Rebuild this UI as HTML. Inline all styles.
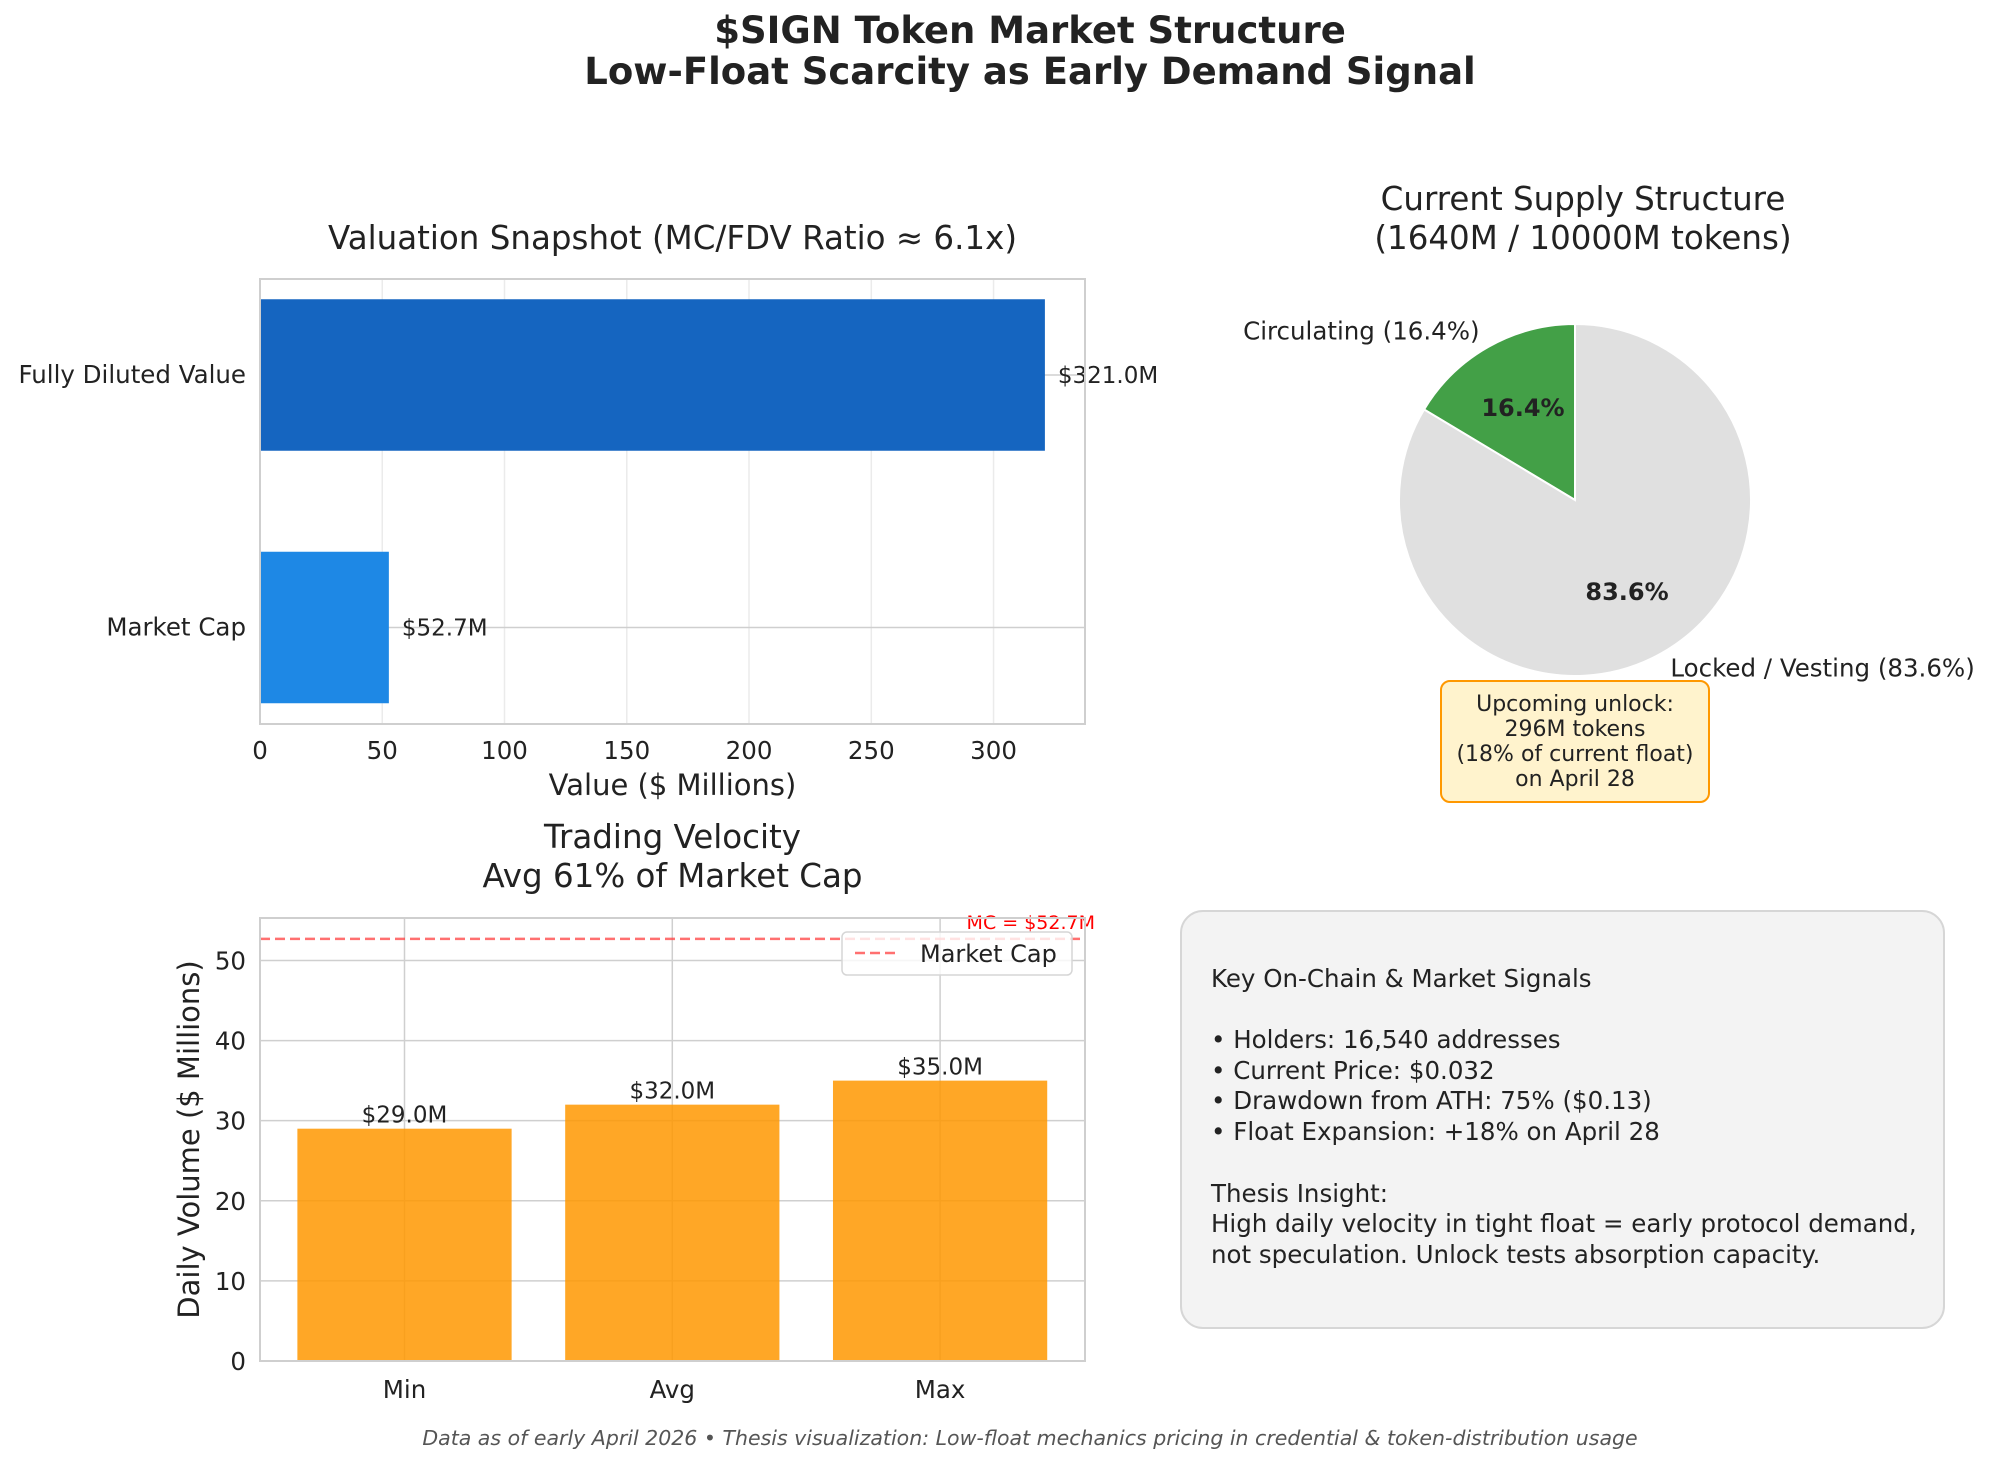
<!DOCTYPE html>
<html><head><meta charset="utf-8"><style>
body{margin:0;background:#fff;}
svg{display:block;font-family:"DejaVu Sans","Liberation Sans",sans-serif;}
</style></head><body>
<svg id="fig" width="2000" height="1457" viewBox="0 0 2000 1457" xmlns="http://www.w3.org/2000/svg">
<text x="1030" y="43" text-anchor="middle" font-size="37" font-weight="bold" fill="#222">$SIGN Token Market Structure</text>
<text x="1030" y="84" text-anchor="middle" font-size="37" font-weight="bold" fill="#222">Low-Float Scarcity as Early Demand Signal</text>
<g id="top"></g>
<g id="bot"></g>
<g id="pie"></g>
<g>
<rect x="1181" y="911" width="763" height="417" rx="22" fill="#f3f3f3" stroke="#d6d6d6" stroke-width="2"/>
<g font-size="24.5" fill="#222">
<text x="1211" y="987">Key On-Chain &amp; Market Signals</text>
<text x="1211" y="1048">• Holders: 16,540 addresses</text>
<text x="1211" y="1079">• Current Price: $0.032</text>
<text x="1211" y="1109">• Drawdown from ATH: 75% ($0.13)</text>
<text x="1211" y="1140">• Float Expansion: +18% on April 28</text>
<text x="1211" y="1202">Thesis Insight:</text>
<text x="1211" y="1232">High daily velocity in tight float = early protocol demand,</text>
<text x="1211" y="1263">not speculation. Unlock tests absorption capacity.</text>
</g></g>
<text x="1030" y="1445" text-anchor="middle" font-size="20.5" font-style="italic" fill="#555">Data as of early April 2026 • Thesis visualization: Low-float mechanics pricing in credential &amp; token-distribution usage</text>
</svg>
<script>
const valCats=["Market Cap","Fully Diluted Value"];
const valValues=[52.7,321.0];
const valTicks=[0,50,100,150,200,250,300];
const volCats=["Min","Avg","Max"];
const volValues=[29.0,32.0,35.0];
const volTicks=[0,10,20,30,40,50];
const mcLine=52.7;
const pieLabels=["Circulating (16.4%)","Locked / Vesting (83.6%)"];
const pieValues=[16.4,83.6];

const NS="http://www.w3.org/2000/svg";
function mk(parent,tag,attrs,text){const e=document.createElementNS(NS,tag);for(const k in attrs)e.setAttribute(k,attrs[k]);if(text!==undefined)e.textContent=text;parent.appendChild(e);return e;}

(function(){
 const g=document.getElementById('top');
 const L=260,R=1085,T=279,B=724;
 const xs=v=>L+(v-0)/(337.4)*(R-L);
 const ys=i=>627.5-(i)*252.5;
 let t=mk(g,'text',{x:(L+R)/2,y:249,'text-anchor':'middle','font-size':32.5,fill:'#222'},'Valuation Snapshot (MC/FDV Ratio ≈ 6.1x)');
 
 valTicks.forEach(v=>{
  const l=mk(g,'line',{x1:xs(v),x2:xs(v),y1:T,y2:B,stroke:'#ebebeb','stroke-width':1.5});
  
  const tx=mk(g,'text',{x:xs(v),y:B+35,'text-anchor':'middle','font-size':24.5,fill:'#222'},String(v));
  
 });
 valCats.forEach((c,i)=>{
  const l=mk(g,'line',{x1:L,x2:R,y1:ys(i),y2:ys(i),stroke:'#cfcfcf','stroke-width':1.5});
  
 });
 const cols=['#1E88E5','#1565C0'];
 valCats.forEach((c,i)=>{
  const h=0.6*252.5;
  const r=mk(g,'rect',{x:L,y:ys(i)-h/2,width:xs(valValues[i])-L,height:h,fill:cols[i]});
  
  const lb=mk(g,'text',{x:xs(valValues[i])+13,y:ys(i)+8,'font-size':23,fill:'#222'},'$'+valValues[i].toFixed(1)+'M');
  
  const yl=mk(g,'text',{x:L-14,y:ys(i)+8,'text-anchor':'end','font-size':24.5,fill:'#222'},c);
  
 });
 const fr=mk(g,'rect',{x:L,y:T,width:R-L,height:B-T,fill:'none',stroke:'#cfcfcf','stroke-width':2});
 
 const xl=mk(g,'text',{x:(L+R)/2,y:B+71,'text-anchor':'middle','font-size':29,fill:'#222'},'Value ($ Millions)');
 
})();

(function(){
 const g=document.getElementById('bot');
 const L=260,R=1085,T=918,B=1361;
 const ys=v=>B-v*(B-T)/55.3;
 const xs=i=>404.5+i*267.8;
 let t=mk(g,'text',{x:(L+R)/2,y:848,'text-anchor':'middle','font-size':32.5,fill:'#222'},'Trading Velocity');
 
 t=mk(g,'text',{x:(L+R)/2,y:887,'text-anchor':'middle','font-size':32.5,fill:'#222'},'Avg 61% of Market Cap');
 
 volTicks.forEach(v=>{
  const l=mk(g,'line',{x1:L,x2:R,y1:ys(v),y2:ys(v),stroke:'#cfcfcf','stroke-width':1.5});
  
  const tx=mk(g,'text',{x:L-14,y:ys(v)+9,'text-anchor':'end','font-size':24.5,fill:'#222'},String(v));
  
 });
 volCats.forEach((c,i)=>{
  const l=mk(g,'line',{x1:xs(i),x2:xs(i),y1:T,y2:B,stroke:'#cfcfcf','stroke-width':1.5});
  
 });
 volCats.forEach((c,i)=>{
  const w=0.8*267.8;
  const r=mk(g,'rect',{x:xs(i)-w/2,y:ys(volValues[i]),width:w,height:B-ys(volValues[i]),fill:'#FF9800','fill-opacity':0.85});
  
  const lb=mk(g,'text',{x:xs(i),y:ys(volValues[i])-6,'text-anchor':'middle','font-size':23,fill:'#222'},'$'+volValues[i].toFixed(1)+'M');
  
  const xl=mk(g,'text',{x:xs(i),y:B+37,'text-anchor':'middle','font-size':24.5,fill:'#222'},c);
  
 });
 const ml=mk(g,'line',{x1:L,x2:R,y1:ys(mcLine),y2:ys(mcLine),stroke:'#ff4040','stroke-opacity':0.75,'stroke-width':2.5,'stroke-dasharray':'10,5'});
 
 const mt=mk(g,'text',{x:R+10,y:ys(mcLine)-10,'text-anchor':'end','font-size':19,fill:'red'},'MC = $'+mcLine.toFixed(1)+'M');
 
 const fr=mk(g,'rect',{x:L,y:T,width:R-L,height:B-T,fill:'none',stroke:'#cfcfcf','stroke-width':2});
 
 const lg=mk(g,'g',{});
 
 mk(lg,'rect',{x:842,y:932,width:230,height:43,rx:5,fill:'#fff','fill-opacity':0.8,stroke:'#d6d6d6','stroke-width':1.5});
 mk(lg,'line',{x1:855,x2:898,y1:953,y2:953,stroke:'#ff4040','stroke-opacity':0.75,'stroke-width':2.5,'stroke-dasharray':'10,5'});
 const le=mk(lg,'text',{x:920,y:962,'font-size':24,fill:'#222'},'Market Cap');
 
 const yt=mk(g,'text',{x:0,y:0,transform:'translate(199,'+((T+B)/2)+') rotate(-90)','text-anchor':'middle','font-size':29,fill:'#222'},'Daily Volume ($ Millions)');
 
})();

(function(){
 const g=document.getElementById('pie');
 const cx=1575,cy=500,r=176;
 let t=mk(g,'text',{x:1583,y:210,'text-anchor':'middle','font-size':32.5,fill:'#222'},'Current Supply Structure');
 
 t=mk(g,'text',{x:1583,y:249,'text-anchor':'middle','font-size':32.5,fill:'#222'},'(1640M / 10000M tokens)');
 
 const total=pieValues.reduce((a,b)=>a+b,0);
 const cols=['#43A047','#E0E0E0'];
 let a0=90;
 pieValues.forEach((v,i)=>{
  const a1=a0+v/total*360;
  const p=a=>[cx+r*Math.cos(a*Math.PI/180),cy-r*Math.sin(a*Math.PI/180)];
  const [x0,y0]=p(a0),[x1,y1]=p(a1);
  const large=(a1-a0)>180?1:0;
  const path=mk(g,'path',{d:`M${cx},${cy} L${x0},${y0} A${r},${r} 0 ${large} 0 ${x1},${y1} Z`,fill:cols[i],stroke:'#fff','stroke-width':2});
  
  const mid=(a0+a1)/2*Math.PI/180;
  const px=cx+0.6*r*Math.cos(mid),py=cy-0.6*r*Math.sin(mid);
  const pt=mk(g,'text',{x:px,y:py+8,'text-anchor':'middle','font-size':24,'font-weight':'bold',fill:'#222'},v.toFixed(1)+'%');
  
  const lx=cx+1.1*r*Math.cos(mid),ly=cy-1.1*r*Math.sin(mid);
  const lt=mk(g,'text',{x:lx,y:ly+8,'text-anchor':Math.cos(mid)<0?'end':'start','font-size':24.5,fill:'#222'},pieLabels[i]);
  
  a0=a1;
 });
 const ag=mk(g,'g',{});
 
 mk(ag,'rect',{x:1441,y:681,width:268,height:121,rx:9,fill:'#FFF3CD',stroke:'#FF9800','stroke-width':2});
 ['Upcoming unlock:','296M tokens','(18% of current float)','on April 28'].forEach((s,k)=>{
  mk(ag,'text',{x:1575,y:711+k*25,'text-anchor':'middle','font-size':22,fill:'#222'},s);
 });
})();
</script>
</body></html>
